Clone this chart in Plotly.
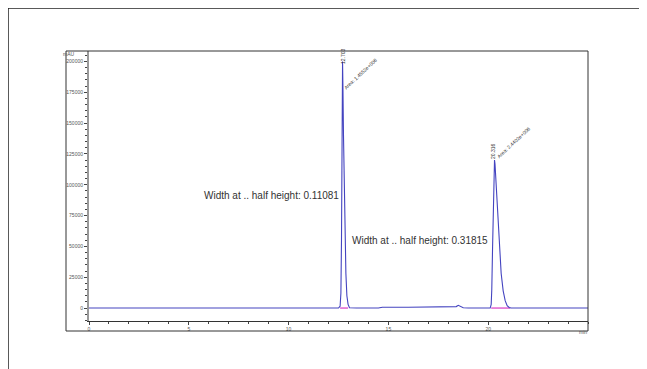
import plotly.graph_objects as go

# ---- data ----
time_min = [0.0, 5.0, 10.0, 12.50, 12.58, 12.62, 12.65, 12.67, 12.69, 12.703, 12.72, 12.75,
            12.78, 12.82, 12.87, 12.92, 12.98, 13.05, 13.40, 14.50, 14.70, 16.0, 18.20,
            18.40, 18.50, 18.60, 18.75, 19.0, 20.10, 20.15, 20.18, 20.22, 20.26, 20.30,
            20.316, 20.34, 20.40, 20.47, 20.55, 20.65, 20.75, 20.85, 20.95, 21.05,
            21.15, 22.0, 25.0]
signal_mau = [0, 0, 0, 0, 1500, 12000, 55000, 110000, 170000, 200000, 182000, 140000,
              100000, 60000, 28000, 10000, 3000, 300, 0, 0, 700, 700, 700,
              1200, 2200, 1200, 200, 0, 0, 3000, 15000, 50000, 95000, 118000,
              120000, 117000, 100000, 75000, 50000, 28000, 14000, 6000, 2000, 500,
              0, 0, 0]

peak_rt = [12.703, 20.316]
peak_rt_labels = ["12.703", "20.316"]
peak_area_labels = ["Area: 1.4552e+006", "Area: 2.4402e+006"]
peak_width_labels = ["Width at .. half height: 0.11081", "Width at .. half height: 0.31815"]
baseline_segments = [[12.58, 12.98], [20.15, 21.10]]

x_ticks = [0, 5, 10, 15, 20]
y_ticks = [0, 25000, 50000, 75000, 100000, 125000, 150000, 175000, 200000]

fig = go.Figure()

for seg in baseline_segments:
    fig.add_trace(go.Scatter(x=seg, y=[0, 0], mode="lines",
                             line=dict(color="#e060d0", width=1.5),
                             hoverinfo="skip", showlegend=False))

fig.add_trace(go.Scatter(x=time_min, y=signal_mau, mode="lines",
                         line=dict(color="#4444c0", width=1.1),
                         showlegend=False))

# peak annotations
lab_font = dict(family="Liberation Sans, Arial, sans-serif", size=5, color="#333333")
rt_pos = [(12.73, 204500), (20.24, 127400)]
area_pos = [(13.58, 190000), (21.29, 134700)]
for i in range(2):
    fig.add_annotation(x=rt_pos[i][0], y=rt_pos[i][1], xref="x", yref="y",
                       text=peak_rt_labels[i], textangle=-90, showarrow=False,
                       font=lab_font)
    fig.add_annotation(x=area_pos[i][0], y=area_pos[i][1], xref="x", yref="y",
                       text=peak_area_labels[i], textangle=-43, showarrow=False,
                       font=lab_font)

width_pos = [(12.62, 91000), (20.08, 55000)]
for i in range(2):
    fig.add_annotation(x=width_pos[i][0], y=width_pos[i][1], xref="x", yref="y",
                       text=peak_width_labels[i], showarrow=False, xanchor="right",
                       font=dict(family="Liberation Sans, Arial, sans-serif", size=10,
                                 color="#333333"))

small = dict(family="Liberation Sans, Arial, sans-serif", size=5, color="#555555")
# axis unit labels
fig.add_annotation(x=-0.024, y=0.99, xref="paper", yref="paper", text="mAU",
                   showarrow=False, font=small, xanchor="right", yanchor="middle")
fig.add_annotation(x=0.99, y=-0.022, xref="paper", yref="paper", text="min",
                   showarrow=False, font=small, xanchor="center", yanchor="top")

# page body adds an 8px offset; positions below are given in screen px
OFF = 8
L_PX, R_PX, T_PX, B_PX = 89, 588, 51, 321


def px_x(p):
    return (p - L_PX) / float(R_PX - L_PX)


def px_y(p):
    return (B_PX - p) / float(B_PX - T_PX)


fig.add_shape(type="rect", xref="paper", yref="paper",
              x0=px_x(66), x1=px_x(588), y0=px_y(331), y1=px_y(51),
              line=dict(color="#333333", width=1))
fig.add_shape(type="line", xref="paper", yref="paper",
              x0=px_x(8), x1=px_x(641), y0=px_y(8), y1=px_y(8),
              line=dict(color="#222222", width=1.5))
fig.add_shape(type="line", xref="paper", yref="paper",
              x0=px_x(8), x1=px_x(8), y0=px_y(8), y1=px_y(369),
              line=dict(color="#222222", width=1.5))
fig.add_shape(type="line", xref="paper", yref="paper",
              x0=px_x(641), x1=px_x(641), y0=px_y(8), y1=px_y(345),
              line=dict(color="#222222", width=1.5))

fig.update_xaxes(range=[0, 25], tickvals=x_ticks, ticktext=[str(v) for v in x_ticks],
                 ticks="outside", ticklen=3, tickcolor="#444", showgrid=False,
                 zeroline=False, showline=True, linecolor="#333333", linewidth=1,
                 tickfont=small, minor=dict(dtick=1, ticks="outside", ticklen=2,
                                            tickcolor="#444", showgrid=False))
fig.update_yaxes(range=[-10500, 208500], tickvals=y_ticks,
                 ticktext=[str(v) for v in y_ticks],
                 ticks="outside", ticklen=3, tickcolor="#444", showgrid=False,
                 zeroline=False, showline=True, linecolor="#999999", linewidth=2,
                 tickfont=small, minor=dict(dtick=5000, ticks="outside", ticklen=2,
                                            tickcolor="#444", showgrid=False))

fig.update_layout(width=647, height=369,
                  margin=dict(l=L_PX - OFF, r=647 - (R_PX - OFF), t=T_PX - OFF,
                              b=369 - (B_PX - OFF)),
                  paper_bgcolor="white", plot_bgcolor="white", showlegend=False)

fig.write_html("out.html")
